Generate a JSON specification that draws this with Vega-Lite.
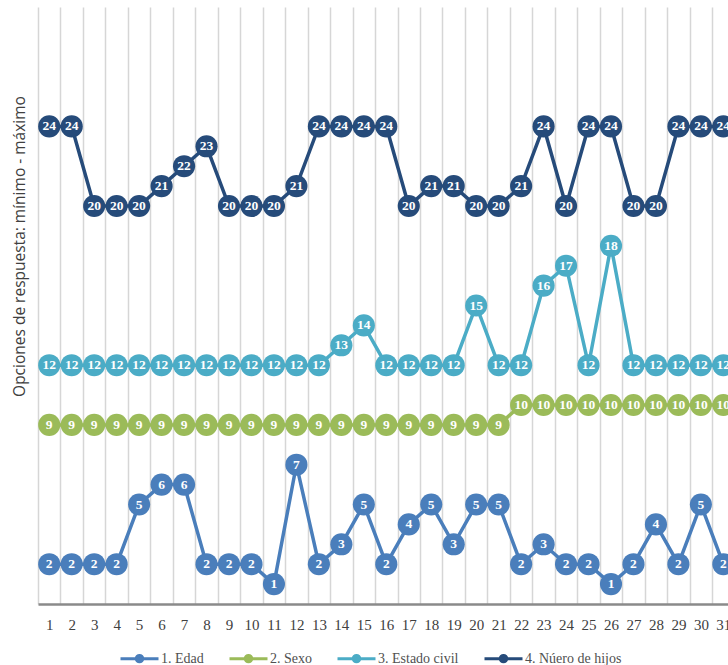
{
  "$schema": "https://vega.github.io/schema/vega-lite/v6.json",
  "autosize": {"type": "none"},
  "padding": {"left": 38, "top": 7, "right": 0, "bottom": 61},
  "width": 690,
  "height": 597,
  "background": "white",
  "config": {"view": {"stroke": null}},
  "data": {"values": [
    {"x":1,"s":"1. Edad","v":2},{"x":2,"s":"1. Edad","v":2},{"x":3,"s":"1. Edad","v":2},{"x":4,"s":"1. Edad","v":2},{"x":5,"s":"1. Edad","v":5},{"x":6,"s":"1. Edad","v":6},{"x":7,"s":"1. Edad","v":6},{"x":8,"s":"1. Edad","v":2},{"x":9,"s":"1. Edad","v":2},{"x":10,"s":"1. Edad","v":2},{"x":11,"s":"1. Edad","v":1},{"x":12,"s":"1. Edad","v":7},{"x":13,"s":"1. Edad","v":2},{"x":14,"s":"1. Edad","v":3},{"x":15,"s":"1. Edad","v":5},{"x":16,"s":"1. Edad","v":2},{"x":17,"s":"1. Edad","v":4},{"x":18,"s":"1. Edad","v":5},{"x":19,"s":"1. Edad","v":3},{"x":20,"s":"1. Edad","v":5},{"x":21,"s":"1. Edad","v":5},{"x":22,"s":"1. Edad","v":2},{"x":23,"s":"1. Edad","v":3},{"x":24,"s":"1. Edad","v":2},{"x":25,"s":"1. Edad","v":2},{"x":26,"s":"1. Edad","v":1},{"x":27,"s":"1. Edad","v":2},{"x":28,"s":"1. Edad","v":4},{"x":29,"s":"1. Edad","v":2},{"x":30,"s":"1. Edad","v":5},{"x":31,"s":"1. Edad","v":2},
    {"x":1,"s":"2. Sexo","v":9},{"x":2,"s":"2. Sexo","v":9},{"x":3,"s":"2. Sexo","v":9},{"x":4,"s":"2. Sexo","v":9},{"x":5,"s":"2. Sexo","v":9},{"x":6,"s":"2. Sexo","v":9},{"x":7,"s":"2. Sexo","v":9},{"x":8,"s":"2. Sexo","v":9},{"x":9,"s":"2. Sexo","v":9},{"x":10,"s":"2. Sexo","v":9},{"x":11,"s":"2. Sexo","v":9},{"x":12,"s":"2. Sexo","v":9},{"x":13,"s":"2. Sexo","v":9},{"x":14,"s":"2. Sexo","v":9},{"x":15,"s":"2. Sexo","v":9},{"x":16,"s":"2. Sexo","v":9},{"x":17,"s":"2. Sexo","v":9},{"x":18,"s":"2. Sexo","v":9},{"x":19,"s":"2. Sexo","v":9},{"x":20,"s":"2. Sexo","v":9},{"x":21,"s":"2. Sexo","v":9},{"x":22,"s":"2. Sexo","v":10},{"x":23,"s":"2. Sexo","v":10},{"x":24,"s":"2. Sexo","v":10},{"x":25,"s":"2. Sexo","v":10},{"x":26,"s":"2. Sexo","v":10},{"x":27,"s":"2. Sexo","v":10},{"x":28,"s":"2. Sexo","v":10},{"x":29,"s":"2. Sexo","v":10},{"x":30,"s":"2. Sexo","v":10},{"x":31,"s":"2. Sexo","v":10},
    {"x":1,"s":"3. Estado civil","v":12},{"x":2,"s":"3. Estado civil","v":12},{"x":3,"s":"3. Estado civil","v":12},{"x":4,"s":"3. Estado civil","v":12},{"x":5,"s":"3. Estado civil","v":12},{"x":6,"s":"3. Estado civil","v":12},{"x":7,"s":"3. Estado civil","v":12},{"x":8,"s":"3. Estado civil","v":12},{"x":9,"s":"3. Estado civil","v":12},{"x":10,"s":"3. Estado civil","v":12},{"x":11,"s":"3. Estado civil","v":12},{"x":12,"s":"3. Estado civil","v":12},{"x":13,"s":"3. Estado civil","v":12},{"x":14,"s":"3. Estado civil","v":13},{"x":15,"s":"3. Estado civil","v":14},{"x":16,"s":"3. Estado civil","v":12},{"x":17,"s":"3. Estado civil","v":12},{"x":18,"s":"3. Estado civil","v":12},{"x":19,"s":"3. Estado civil","v":12},{"x":20,"s":"3. Estado civil","v":15},{"x":21,"s":"3. Estado civil","v":12},{"x":22,"s":"3. Estado civil","v":12},{"x":23,"s":"3. Estado civil","v":16},{"x":24,"s":"3. Estado civil","v":17},{"x":25,"s":"3. Estado civil","v":12},{"x":26,"s":"3. Estado civil","v":18},{"x":27,"s":"3. Estado civil","v":12},{"x":28,"s":"3. Estado civil","v":12},{"x":29,"s":"3. Estado civil","v":12},{"x":30,"s":"3. Estado civil","v":12},{"x":31,"s":"3. Estado civil","v":12},
    {"x":1,"s":"4. Núero de hijos","v":24},{"x":2,"s":"4. Núero de hijos","v":24},{"x":3,"s":"4. Núero de hijos","v":20},{"x":4,"s":"4. Núero de hijos","v":20},{"x":5,"s":"4. Núero de hijos","v":20},{"x":6,"s":"4. Núero de hijos","v":21},{"x":7,"s":"4. Núero de hijos","v":22},{"x":8,"s":"4. Núero de hijos","v":23},{"x":9,"s":"4. Núero de hijos","v":20},{"x":10,"s":"4. Núero de hijos","v":20},{"x":11,"s":"4. Núero de hijos","v":20},{"x":12,"s":"4. Núero de hijos","v":21},{"x":13,"s":"4. Núero de hijos","v":24},{"x":14,"s":"4. Núero de hijos","v":24},{"x":15,"s":"4. Núero de hijos","v":24},{"x":16,"s":"4. Núero de hijos","v":24},{"x":17,"s":"4. Núero de hijos","v":20},{"x":18,"s":"4. Núero de hijos","v":21},{"x":19,"s":"4. Núero de hijos","v":21},{"x":20,"s":"4. Núero de hijos","v":20},{"x":21,"s":"4. Núero de hijos","v":20},{"x":22,"s":"4. Núero de hijos","v":21},{"x":23,"s":"4. Núero de hijos","v":24},{"x":24,"s":"4. Núero de hijos","v":20},{"x":25,"s":"4. Núero de hijos","v":24},{"x":26,"s":"4. Núero de hijos","v":24},{"x":27,"s":"4. Núero de hijos","v":20},{"x":28,"s":"4. Núero de hijos","v":20},{"x":29,"s":"4. Núero de hijos","v":24},{"x":30,"s":"4. Núero de hijos","v":24},{"x":31,"s":"4. Núero de hijos","v":24}
  ]},
  "encoding": {
    "x": {
      "field": "x", "type": "ordinal",
      "scale": {"type": "band", "domain": [1,2,3,4,5,6,7,8,9,10,11,12,13,14,15,16,17,18,19,20,21,22,23,24,25,26,27,28,29,30,31], "range": [0, 696.6], "paddingInner": 0, "paddingOuter": 0},
      "axis": {
        "title": null, "grid": true, "tickBand": "extent", "gridColor": "#d6d6d6", "gridWidth": 1.5,
        "ticks": false, "domain": true, "domainColor": "#8a8a8a", "domainWidth": 2.5,
        "labelAngle": 0, "labelFont": "Liberation Serif", "labelFontSize": 15, "labelColor": "#404040", "labelPadding": 13
      }
    },
    "y": {
      "field": "v", "type": "quantitative",
      "scale": {"domain": [0, 30], "nice": false, "zero": true},
      "axis": {
        "title": "Opciones de respuesta: mínimo - máximo", "labels": false, "ticks": false, "domain": false, "grid": false,
        "titleFont": "Open Sans", "titleFontSize": 15.5, "titleFontWeight": "normal", "titleColor": "#404040",
        "titleAngle": -90, "titleAlign": "center", "titleBaseline": "middle", "titleX": -19, "titleY": 239
      }
    },
    "color": {
      "field": "s", "type": "nominal",
      "scale": {"domain": ["1. Edad", "2. Sexo", "3. Estado civil", "4. Núero de hijos"], "range": ["#4a7ebb", "#9bbb59", "#4bacc6", "#264b7a"]},
      "legend": {
        "orient": "none", "legendX": 81, "legendY": 631, "direction": "horizontal", "title": null,
        "symbolType": "M-1,0H1M0.17,0A0.17,0.17,0,1,1,-0.17,0A0.17,0.17,0,1,1,0.17,0",
        "symbolSize": 1444, "symbolStrokeWidth": 3, "labelFont": "Liberation Serif", "labelFontSize": 14,
        "labelColor": "#505050", "labelOffset": 1, "columnPadding": 19, "padding": 0,
        "encode": {"symbols": {"update": {"fill": {"scale": "color", "field": "value"}, "stroke": {"scale": "color", "field": "value"}, "opacity": {"value": 1}}}}
      }
    }
  },
  "layer": [
    {"mark": {"type": "line", "strokeWidth": 3.5}},
    {"mark": {"type": "point", "filled": true, "size": 490, "opacity": 1}},
    {"mark": {"type": "text", "font": "Liberation Serif", "fontWeight": "bold", "fontSize": 13.5, "color": "white", "baseline": "middle", "align": "center"},
     "encoding": {"text": {"field": "v", "type": "quantitative"}, "color": {"value": "white"}}}
  ]
}
